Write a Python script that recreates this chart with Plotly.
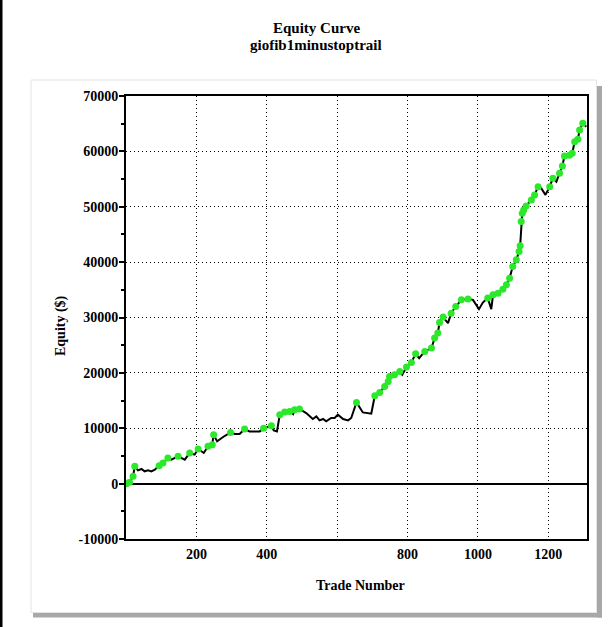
import plotly.graph_objects as go

# ---- data ----
trade_number = [1, 10, 20, 25, 34, 44, 53, 63, 72, 82, 94, 105, 119, 129, 148, 167, 181, 195, 205, 221,
                233, 245, 249, 259, 276, 297, 309, 323, 337, 351, 380, 391, 413, 420, 429, 437, 451, 465,
                475, 479, 493, 512, 531, 541, 550, 560, 569, 583, 593, 602, 617, 631, 640, 655, 673, 697,
                707, 721, 735, 745, 749, 763, 778, 785, 797, 811, 823, 833, 849, 868, 877, 886, 891, 901,
                915, 924, 937, 953, 972, 986, 1003, 1014, 1028, 1038, 1043, 1057, 1071, 1081, 1090, 1099,
                1109, 1117, 1120, 1123, 1126, 1130, 1137, 1152, 1161, 1171, 1180, 1192, 1204, 1213, 1223,
                1232, 1240, 1246, 1260, 1268, 1275, 1284, 1289, 1298, 1308]
equity = [0, 240, 1320, 3120, 2400, 2650, 2220, 2400, 2220, 2525, 3250, 3730, 4630, 4330, 4930, 4330,
          5540, 5230, 6260, 5540, 6730, 7040, 8840, 7630, 8420, 9250, 8960, 8960, 9870, 9430, 9430, 9980,
          10460, 9620, 9430, 12450, 12930, 13040, 12570, 13350, 13480, 12750, 11670, 12140, 11420, 11670,
          11240, 11850, 11850, 12450, 11670, 11420, 11850, 14670, 12860, 12630, 15880, 16470, 17550, 18450,
          19360, 19660, 20260, 19660, 21050, 21880, 23450, 22670, 23870, 24480, 26280, 27190, 29100, 30070,
          28990, 30790, 31980, 33190, 33320, 33190, 31510, 32700, 33500, 31510, 34090, 34400, 35120, 35900,
          37110, 39200, 40410, 41910, 42940, 47320, 48830, 49430, 50150, 51230, 52140, 53630, 53340, 52140,
          53630, 55140, 54530, 56050, 57370, 59170, 59300, 59660, 61750, 62180, 63860, 65070, 64460]

x_tickvals = [200, 400, 600, 800, 1000, 1200]
x_ticktext = ["200", "400", "", "800", "1000", "1200"]
y_tickvals = [-10000, 0, 10000, 20000, 30000, 40000, 50000, 60000, 70000]
y_ticktext = ["-10000", "0", "10000", "20000", "30000", "40000", "50000", "60000", "70000"]

title_line1 = "Equity Curve"
title_line2 = "giofib1minustoptrail"
x_title = "Trade Number"
y_title = "Equity ($)"

# new equity highs (green dots)
hx, hy = [], []
run_max = None
for t, e in zip(trade_number, equity):
    if run_max is None or e >= run_max:
        hx.append(t)
        hy.append(e)
        run_max = e

W, H = 611, 627
L, R, T, B = 126, 24, 96, 88
PW, PH = W - L - R, H - T - B


def px(xp):
    return (xp - L) / PW


def py(yp):
    return (H - B - yp) / PH


FONT = "Liberation Serif"

fig = go.Figure()
fig.add_trace(go.Scatter(x=trade_number, y=equity, mode="lines",
                         line=dict(color="black", width=2), hoverinfo="skip", showlegend=False))
fig.add_trace(go.Scatter(x=hx, y=hy, mode="markers",
                         marker=dict(color="#2BE82B", size=7, line=dict(width=0)),
                         showlegend=False))

shapes = [
    # left black edge
    dict(type="rect", xref="paper", yref="paper", x0=px(0), x1=px(2.5), y0=py(0), y1=py(H),
         fillcolor="black", line=dict(width=0), layer="below"),
    # shadow right / bottom
    dict(type="rect", xref="paper", yref="paper", x0=px(597), x1=px(602), y0=py(86), y1=py(617.5),
         fillcolor="#A8A8A8", line=dict(width=0), layer="below"),
    dict(type="rect", xref="paper", yref="paper", x0=px(33), x1=px(602), y0=py(612.5), y1=py(617.5),
         fillcolor="#A8A8A8", line=dict(width=0), layer="below"),
    # panel
    dict(type="rect", xref="paper", yref="paper", x0=px(31), x1=px(596.5), y0=py(80), y1=py(612.5),
         fillcolor="white", line=dict(color="#E4E4E4", width=1), layer="below"),
]

annotations = [
    dict(text="<b>" + title_line1 + "</b>", xref="paper", yref="paper", x=px(316), y=py(28),
         showarrow=False, xanchor="center", yanchor="middle", font=dict(family=FONT, size=15, color="black")),
    dict(text="<b>" + title_line2 + "</b>", xref="paper", yref="paper", x=px(316), y=py(44.5),
         showarrow=False, xanchor="center", yanchor="middle", font=dict(family=FONT, size=15, color="black")),
    dict(text="<b>" + x_title + "</b>", xref="paper", yref="paper", x=px(360), y=py(585),
         showarrow=False, xanchor="center", yanchor="middle", font=dict(family=FONT, size=14, color="black")),
    dict(text="<b>" + y_title + "</b>", xref="paper", yref="paper", x=px(61), y=py(326),
         showarrow=False, xanchor="center", yanchor="middle", textangle=-90,
         font=dict(family=FONT, size=14, color="black")),
]

XR = [0, 1310]
YR = [-10000, 70000]
zero_pos = (0 - YR[0]) / (YR[1] - YR[0])
TICKFONT = dict(family=FONT, size=14, color="black", weight="bold")

fig.update_layout(
    width=W, height=H,
    margin=dict(l=L, r=R, t=T, b=B, pad=0),
    paper_bgcolor="white",
    plot_bgcolor="rgba(0,0,0,0)",
    shapes=shapes,
    annotations=annotations,
    showlegend=False,
    hovermode=False,
    xaxis=dict(range=XR, tickvals=x_tickvals, ticktext=x_ticktext, ticks="", showline=True,
               linecolor="black", linewidth=2, mirror=True, showgrid=True, gridcolor="black",
               gridwidth=1, griddash="1px,3px", zeroline=False,
               tickfont=TICKFONT, ticklabelstandoff=1),
    yaxis=dict(range=YR, tickvals=y_tickvals, ticktext=y_ticktext, ticks="outside", ticklen=5,
               tickwidth=1.5, tickcolor="black", showline=True, linecolor="black", linewidth=2,
               mirror=True, showgrid=True, gridcolor="black", gridwidth=1, griddash="1px,3px",
               zeroline=True, zerolinecolor="black", zerolinewidth=2,
               tickfont=TICKFONT, ticklabelstandoff=-2,
               minor=dict(dtick=5000, ticks="outside", ticklen=3, tickcolor="black", tickwidth=1.5,
                          showgrid=False)),
    # ticks crossing the zero line every 100 trades
    xaxis2=dict(range=XR, overlaying="x", anchor="free", position=zero_pos, side="bottom",
                dtick=100, tick0=0, ticks="outside", ticklen=3, tickwidth=1.5, tickcolor="black",
                showticklabels=False, showgrid=False, showline=False, zeroline=False),
    xaxis3=dict(range=XR, overlaying="x", anchor="free", position=zero_pos, side="bottom",
                dtick=100, tick0=0, ticks="inside", ticklen=3, tickwidth=1.5, tickcolor="black",
                showticklabels=False, showgrid=False, showline=False, zeroline=False),
    yaxis2=dict(range=YR, overlaying="y", anchor="x", side="left", tick0=5000, dtick=10000,
                ticks="inside", ticklen=3, tickwidth=1.5, tickcolor="black",
                showticklabels=False, showgrid=False, showline=False, zeroline=False),
)

fig.write_html("out.html", config={"displayModeBar": False},
               post_script="document.body.style.margin='0px';document.body.style.padding='0px';")
